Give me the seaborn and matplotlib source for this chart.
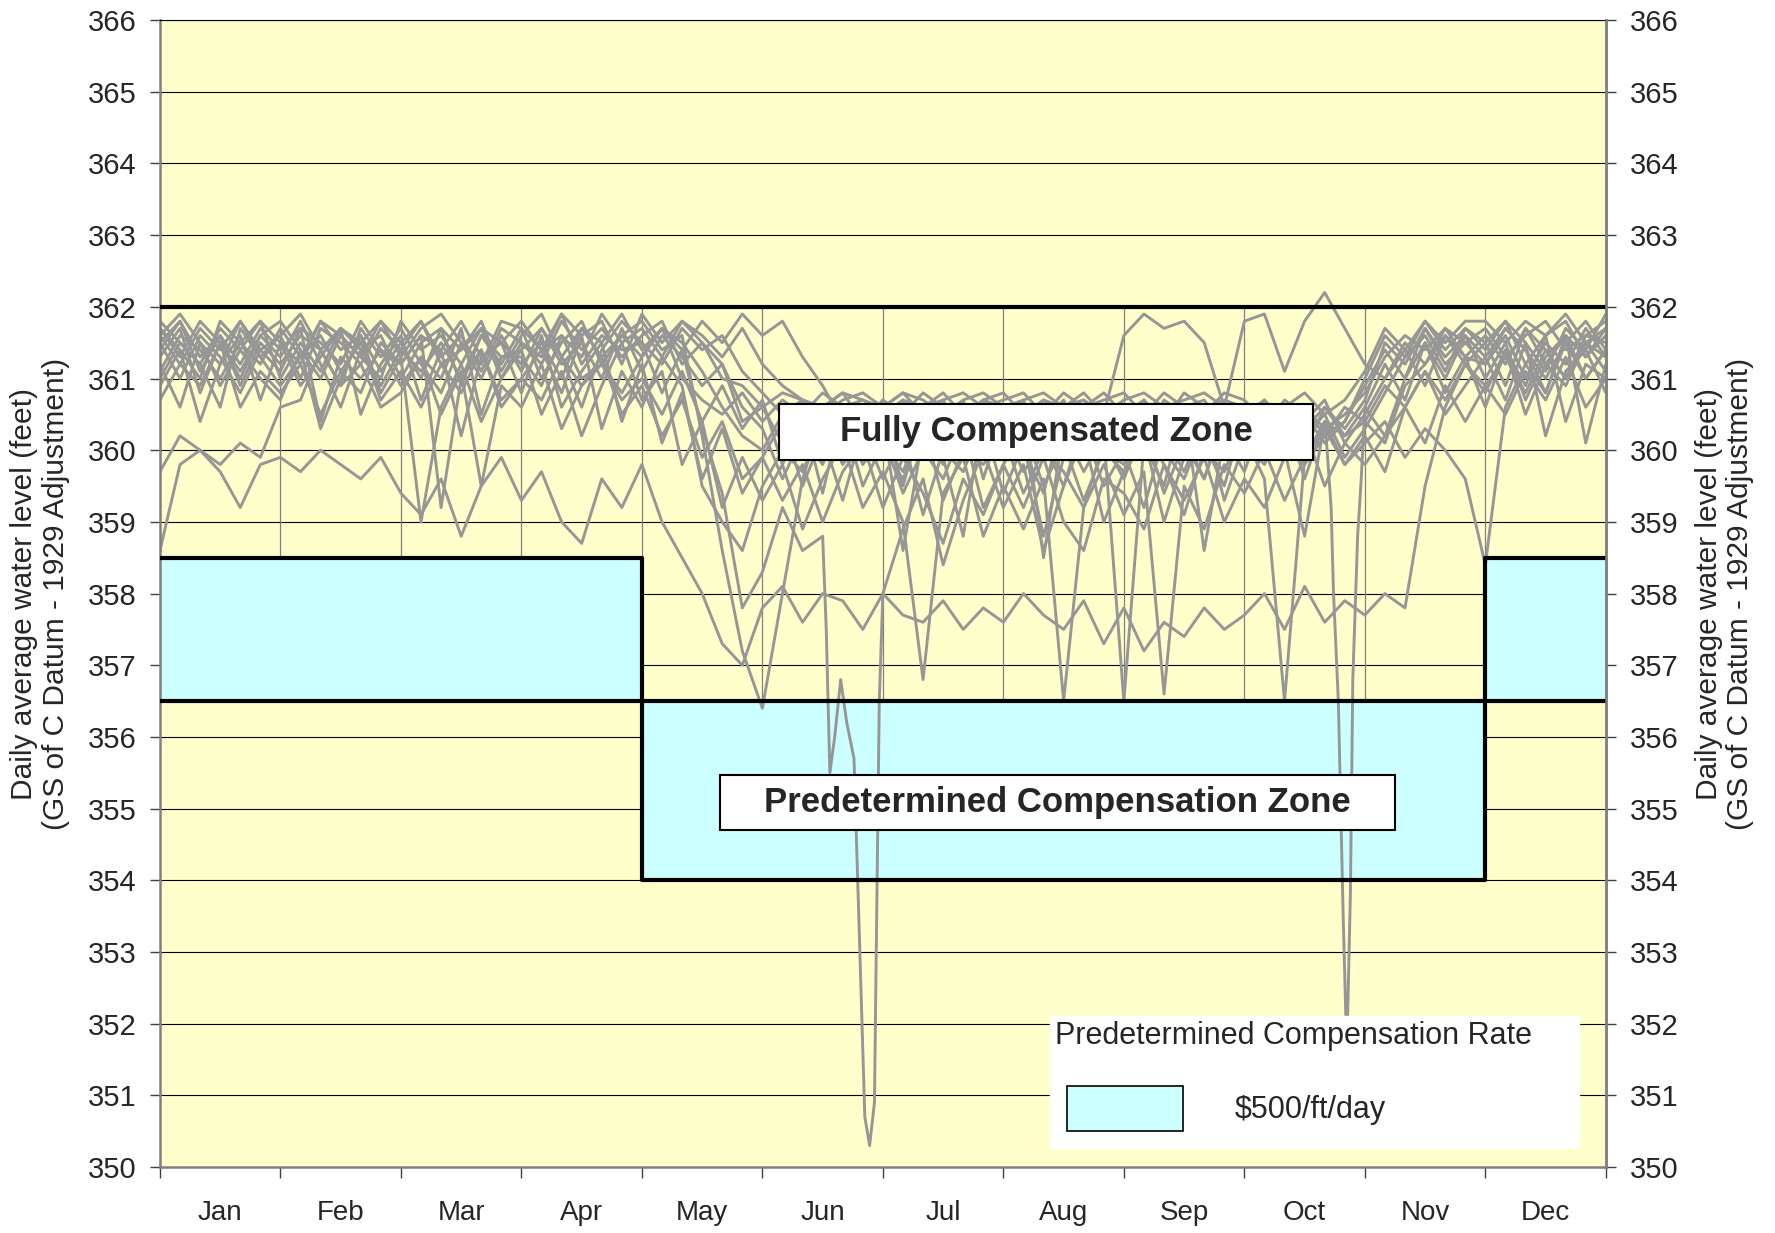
import numpy as np
import pandas as pd
import matplotlib
matplotlib.use("Agg")
import matplotlib.pyplot as plt
import seaborn as sns
from matplotlib.patches import Patch, Rectangle

# ---- data ----
months = ["Jan", "Feb", "Mar", "Apr", "May", "Jun",
          "Jul", "Aug", "Sep", "Oct", "Nov", "Dec"]

# daily water levels, sampled ~every 5 days (6 readings per month), Jan 1 .. Dec 31
samples_per_month = 6

level_a = [361.6, 361.2, 361.7, 361.4, 361.8, 361.3,
           361.6, 361.0, 361.7, 361.5, 361.2, 361.7,
           361.4, 361.8, 361.3, 361.6, 361.1, 361.7,
           361.5, 361.2, 361.8, 361.4, 361.7, 361.3,
           361.6, 361.8, 361.2, 361.5, 361.0, 360.9,
           360.6, 360.8, 360.7, 360.6, 360.8, 360.7,
           360.6, 360.8, 360.7, 360.5, 360.7, 360.8,
           360.6, 360.7, 360.8, 360.6, 360.7, 360.5,
           360.7, 360.8, 360.6, 360.7, 360.8, 360.6,
           360.5, 360.7, 360.4, 360.6, 360.3, 360.5,
           360.8, 361.3, 361.6, 361.4, 361.7, 361.5,
           361.7, 361.3, 361.6, 361.8, 361.4, 361.6, 361.5]

level_b = [361.3, 361.7, 360.8, 361.5, 361.1, 361.6,
           361.3, 361.8, 361.2, 360.6, 361.4, 361.6,
           361.0, 361.5, 361.7, 360.9, 361.6, 361.2,
           361.7, 361.0, 361.5, 361.8, 361.2, 361.6,
           361.3, 361.7, 361.5, 361.1, 360.6, 360.2,
           360.0, 360.5, 360.7, 360.3, 360.6, 360.0,
           360.7, 360.2, 360.6, 360.7, 360.1, 360.6,
           360.4, 360.7, 360.0, 360.6, 360.7, 360.3,
           360.6, 360.2, 360.7, 360.5, 360.0, 360.6,
           360.2, 360.6, 360.0, 360.4, 360.7, 360.1,
           360.5, 361.0, 361.4, 360.9, 361.6, 361.2,
           361.5, 360.9, 361.7, 361.2, 361.6, 361.0, 361.4]

level_c = [360.9, 361.4, 360.4, 361.2, 361.6, 360.7,
           361.5, 360.9, 361.3, 361.7, 360.5, 361.2,
           361.6, 360.7, 361.4, 360.2, 361.3, 361.5,
           360.8, 361.6, 360.6, 361.1, 361.5, 360.4,
           361.2, 360.1, 360.8, 359.6, 360.3, 359.4,
           359.9, 360.4, 359.5, 360.2, 359.3, 360.3,
           359.6, 360.2, 359.1, 360.0, 359.7, 360.4,
           359.4, 360.1, 358.8, 359.9, 360.3, 359.5,
           360.0, 359.2, 360.2, 359.7, 360.4, 359.3,
           360.1, 359.8, 360.5, 359.6, 360.4, None,
           360.6, 360.2, 361.0, 361.5, 360.8, 361.3,
           360.6, 361.4, 360.9, 361.6, 360.4, 361.2, 361.0]

level_d = [361.2, 360.6, 361.5, 360.9, 361.4, 361.0,
           360.7, 361.4, 360.3, 361.0, 361.6, 360.8,
           361.3, 359.0, 360.6, 361.2, 360.4, 361.0,
           361.4, 360.5, 361.1, 360.2, 360.9, 361.5,
           360.7, 361.1, 359.8, 360.4, 359.2, 359.9,
           359.3, 359.8, 358.9, 359.6, 360.1, 359.2,
           359.7, 359.0, 356.8, 359.4, 359.9, 358.8,
           359.5, 358.9, 359.6, 356.5, 359.2, 359.8,
           359.1, 359.7, 356.6, 359.5, 358.9, 359.8,
           359.4, 360.0, 359.3, 359.9, 360.4, 359.8,
           360.2, 359.7, 360.6, 361.1, 360.5, 360.9,
           361.3, 360.7, 361.5, 360.2, 361.1, 361.4, 360.8]

level_e = [358.6, 359.8, 360.0, 359.7, 359.2, 359.8,
           359.9, 359.7, 360.0, 359.8, 359.6, 359.9,
           359.4, 359.1, 359.6, 358.8, 359.5, 359.9,
           359.3, 359.7, 359.0, 358.7, 359.6, 359.2,
           359.8, 359.0, 358.5, 358.0, 357.3, 357.0,
           357.8, 358.1, 357.6, 358.0, 357.9, 357.5,
           358.0, 357.7, 357.6, 357.9, 357.5, 357.8,
           357.6, 358.0, 357.7, 357.5, 357.9, 357.3,
           357.8, 357.2, 357.6, 357.4, 357.8, 357.5,
           357.7, 358.0, 357.5, 358.1, 357.6, 357.9,
           357.7, 358.0, 357.8, 359.5, 360.6, 361.2,
           360.8, 361.4, 360.5, 361.2, 360.9, 361.5, 361.3]

level_f = [361.4, 361.8, 361.1, 361.6, 360.9, 361.5,
           361.2, 361.6, 361.4, 360.9, 361.7, 361.3,
           361.7, 361.2, 360.8, 361.5, 361.0, 361.6,
           361.1, 361.7, 361.3, 360.6, 361.4, 361.8,
           361.5, 360.8, 361.4, 360.3, 359.4, 357.8,
           358.3, 359.2, 358.6, 358.8, None, None,
           358.0, 358.9, 359.6, 358.4, 359.3, 360.0,
           359.2, 359.8, 358.6, 359.5, 360.2, 359.0,
           359.7, 360.3, 359.4, 360.1, 359.6, 360.4,
           359.9, 360.5, 360.1, 360.6, 360.2, 360.4,
           360.9, 361.4, 361.0, 361.7, 361.2, 361.5,
           361.2, 361.7, 361.4, 360.8, 361.6, 361.3, 361.7]

level_g = [361.7, 361.3, 361.8, 361.5, 361.0, 361.6,
           361.8, 361.4, 361.0, 361.6, 361.3, 361.8,
           361.5, 361.0, 361.7, 361.4, 361.8, 361.1,
           361.6, 361.9, 361.3, 361.7, 361.5, 361.9,
           361.4, 361.7, 361.0, 360.7, 360.5, 360.8,
           360.4, 360.7, 360.5, 360.8, 360.6, 360.7,
           360.5, 360.7, 360.6, 360.8, 360.5, 360.7,
           360.6, 360.4, 360.7, 360.6, 360.8, 360.5,
           361.6, 361.9, 361.7, 361.8, 361.5, 360.6,
           361.8, 361.9, 361.1, 361.8, 362.2, 361.7,
           361.2, 361.0, 361.5, 361.2, 361.6, 361.3,
           361.6, 361.2, 361.7, 361.4, 361.0, 361.6, 361.8]

level_h = [361.0, 361.5, 361.2, 360.6, 361.7, 361.3,
           360.9, 361.3, 361.6, 361.1, 360.8, 361.5,
           361.2, 361.6, 359.2, 361.0, 361.4, 360.7,
           361.0, 361.4, 360.8, 361.6, 360.3, 361.1,
           360.6, 361.3, 360.9, 359.5, 359.0, 358.6,
           359.5, 360.0, 359.7, 360.4, 359.8, 360.2,
           360.0, 359.6, 360.3, 359.8, 360.5, 359.9,
           360.3, 359.7, 360.1, 359.5, 360.4, 360.0,
           359.8, 360.4, 360.0, 359.6, 360.3, 359.9,
           360.2, 359.6, 356.5, 359.9, 360.3, 359.8,
           360.1, 360.4, 359.9, 360.3, 360.0, 359.6,
           358.4, 360.6, 361.2, 360.8, 361.5, 361.0, 361.4]

level_i = [361.5, 361.0, 361.6, 361.3, 360.8, 361.4,
           361.1, 361.7, 360.4, 361.3, 361.0, 361.4,
           360.9, 361.3, 361.0, 361.7, 360.5, 361.3,
           361.3, 360.9, 361.6, 361.0, 361.2, 360.7,
           361.0, 360.5, 361.1, 360.4, 360.9, 360.3,
           360.7, 359.8, 360.5, 359.4, 360.6, 359.9,
           360.4, 358.6, 360.2, 359.9, 358.8, 360.5,
           359.9, 360.6, 358.5, 360.3, 359.7, 360.2,
           356.5, 360.1, 359.5, 360.6, 358.6, 360.2,
           359.7, 360.5, 360.0, 358.8, 360.4, 360.2,
           360.6, 361.2, 360.7, 361.5, 361.0, 361.6,
           361.0, 361.5, 360.7, 361.3, 361.6, 360.1, 361.2]

level_j = [361.8, 361.5, 361.2, 361.7, 361.4, 361.8,
           361.5, 361.2, 361.8, 361.6, 361.3, 361.0,
           361.8, 361.4, 361.6, 361.2, 361.7, 361.5,
           361.2, 361.5, 361.0, 361.7, 361.3, 361.6,
           361.8, 361.4, 361.6, 360.2, 358.6, 357.2,
           356.4, 358.0, 359.6, 360.5, 360.0, 360.6,
           360.3, 360.7, 360.2, 360.6, 360.4, 360.7,
           360.2, 360.6, 360.4, 360.7, 360.1, 360.6,
           360.4, 360.7, 360.3, 360.6, 360.7, 360.3,
           360.6, 360.3, 360.7, 360.5, 360.1, 360.4,
           361.0, 361.6, 361.3, 361.8, 361.4, 361.7,
           361.4, 361.8, 361.5, 361.1, 361.7, 361.4, 361.9]

level_k = [361.5, 361.8, 361.3, 361.6, 361.2, 361.7,
           361.4, 361.7, 361.5, 361.2, 361.8, 361.4,
           361.2, 361.6, 361.4, 361.8, 361.3, 361.5,
           361.8, 361.4, 361.6, 361.3, 361.9, 361.5,
           361.7, 361.3, 361.8, 361.5, 361.2, 360.6,
           360.3, 359.6, 360.2, 359.8, 360.5, 359.5,
           360.1, 359.7, 360.4, 359.3, 360.0, 359.8,
           360.2, 359.4, 360.0, 359.7, 359.2, 360.1,
           359.6, 360.3, 359.8, 359.1, 360.0, 359.7,
           360.4, 360.1, 360.6, 360.2, 360.5, 359.9,
           360.3, 360.8, 361.3, 361.6, 361.1, 361.7,
           361.5, 361.8, 361.2, 361.6, 361.8, 361.3, 361.6]

level_l = [361.1, 361.6, 361.4, 361.0, 361.5, 361.8,
           361.0, 361.5, 361.1, 361.7, 361.4, 360.9,
           361.4, 361.1, 361.5, 361.0, 361.6, 361.3,
           361.4, 361.7, 361.2, 361.5, 361.0, 361.7,
           361.1, 361.6, 361.3, 360.9, 361.2, 360.4,
           360.6, 360.1, 360.7, 360.4, 359.9, 360.6,
           360.4, 359.5, 360.5, 360.1, 360.7, 359.6,
           360.5, 360.0, 359.4, 360.5, 360.2, 359.9,
           360.5, 360.0, 360.6, 360.2, 359.6, 360.5,
           360.3, 360.7, 359.9, 360.3, 360.6, 360.2,
           360.4, 360.1, 360.9, 361.2, 361.7, 361.3,
           361.2, 361.6, 361.0, 361.5, 361.2, 361.7, 361.3]

level_m = [361.7, 361.4, 361.0, 361.8, 361.5, 361.2,
           361.7, 361.3, 361.8, 361.4, 361.6, 361.1,
           361.5, 361.8, 361.2, 361.4, 361.7, 361.0,
           361.5, 361.3, 361.9, 361.2, 361.6, 361.4,
           361.5, 361.2, 361.7, 361.4, 361.6, 361.1,
           360.8, 360.5, 360.7, 360.6, 360.8, 360.4,
           360.7, 360.5, 360.8, 360.6, 360.4, 360.7,
           360.8, 360.5, 360.7, 360.4, 360.6, 360.8,
           360.5, 360.7, 360.4, 360.8, 360.6, 360.7,
           360.6, 360.2, 360.5, 360.0, 360.6, 360.3,
           360.7, 361.5, 361.2, 361.7, 361.3, 361.6,
           361.3, 361.7, 361.4, 361.0, 361.5, 361.8, 361.4]

level_n = [359.7, 360.2, 360.0, 359.8, 360.1, 359.9,
           360.6, 360.7, 361.4, 360.9, 361.2, 360.6,
           360.8, 361.3, 360.5, 361.1, 359.5, 360.9,
           360.6, 361.2, 360.3, 360.9, 361.3, 360.5,
           360.9, 360.2, 360.7, 359.9, 360.4, 359.6,
           359.9, 359.3, 359.8, 359.0, 359.7, 360.1,
           359.2, 359.9, 359.4, 358.7, 359.6, 359.1,
           359.8, 359.2, 359.9, 359.0, 358.6, 359.6,
           359.4, 358.9, 359.8, 359.3, 359.9, 359.0,
           359.6, 359.2, 359.9, 360.3, 359.5, 360.1,
           359.8, 360.2, 360.6, 360.1, 360.9, 360.4,
           360.9, 360.5, 361.1, 360.7, 361.3, 360.6, 361.0]

level_o = [361.6, 361.9, 361.5, 361.2, 361.8, 361.4,
           361.6, 361.9, 361.4, 361.7, 361.5, 361.8,
           361.3, 361.7, 361.9, 361.5, 361.2, 361.8,
           361.7, 361.4, 361.9, 361.6, 361.8, 361.2,
           361.9, 361.5, 361.8, 361.6, 361.3, 361.7,
           361.2, 360.9, 360.7, 360.5, 360.7, 360.8,
           360.6, 360.8, 360.5, 360.7, 360.8, 360.6,
           360.7, 360.8, 360.5, 360.8, 360.6, 360.7,
           360.8, 360.5, 360.8, 360.6, 360.5, 360.8,
           360.7, 360.4, 360.6, 360.8, 360.5, 360.7,
           361.1, 361.7, 361.4, 361.8, 361.5, 361.8,
           361.8, 361.5, 361.8, 361.6, 361.9, 361.5, 361.7]

level_p = [360.7, 361.2, 360.9, 361.5, 360.6, 361.1,
           360.8, 361.2, 360.5, 361.1, 361.5, 360.7,
           361.1, 360.6, 361.2, 360.8, 361.4, 360.6,
           361.0, 360.7, 361.3, 360.9, 361.2, 360.8,
           361.3, 361.7, 361.4, 361.8, 361.5, 361.9,
           361.6, 361.8, 361.3, 360.9, 360.4, 359.8,
           360.2, 359.4, 360.0, 359.6, 360.3, 359.2,
           359.8, 360.3, 359.5, 360.1, 359.3, 360.0,
           359.7, 360.2, 359.0, 359.9, 360.1, 359.5,
           360.5, 360.1, 360.3, 359.8, 360.2, 360.6,
           360.4, 360.9, 360.6, 361.1, 360.7, 361.2,
           360.9, 361.3, 360.8, 361.4, 361.0, 361.5, 361.1]

# finer readings around the two big drawdowns (late June, late October)
june_drop_month = [5.50, 5.53, 5.56, 5.60, 5.65, 5.70, 5.76, 5.80, 5.85, 5.89, 5.93, 5.97, 6.00]
june_drop_level = [358.8, 357.5, 355.5, 356.0, 356.8, 356.2, 355.7, 353.5, 350.7, 350.3, 350.9, 356.5, 358.0]
oct_drop_month = [9.67, 9.72, 9.74, 9.78, 9.82, 9.85, 9.88, 9.90, 9.94, 9.97]
oct_drop_level = [360.4, 359.2, 358.0, 356.5, 353.5, 351.6, 353.8, 356.8, 358.8, 359.6]

# compensation zones
full_comp_top = 362.0
zone_top = [358.5, 358.5, 358.5, 358.5, 356.5, 356.5, 356.5, 356.5, 356.5, 356.5, 356.5, 358.5]
zone_bottom = [356.5, 356.5, 356.5, 356.5, 354.0, 354.0, 354.0, 354.0, 354.0, 354.0, 354.0, 356.5]
rate_label = "$500/ft/day"

# ---- build long table ----
traces = {"a": level_a, "b": level_b, "c": level_c, "d": level_d, "e": level_e,
          "f": level_f, "g": level_g, "h": level_h, "i": level_i, "j": level_j,
          "k": level_k, "l": level_l, "m": level_m, "n": level_n, "o": level_o,
          "p": level_p}
grid = np.arange(len(level_a)) / samples_per_month
frames = [pd.DataFrame({"month": grid, "level": vals, "year": key}) for key, vals in traces.items()]
frames.append(pd.DataFrame({"month": june_drop_month, "level": june_drop_level, "year": "f"}))
frames.append(pd.DataFrame({"month": oct_drop_month, "level": oct_drop_level, "year": "c"}))
df = pd.concat(frames, ignore_index=True).dropna()
df["level"] = df["level"].astype(float)

# ---- style ----
sns.set_theme(style="ticks")
plt.rcParams["font.family"] = ["Liberation Sans", "DejaVu Sans"]

yellow = "#FFFFCC"
cyan = "#CCFFFF"
gray = "#969696"

fig = plt.figure(figsize=(17.75, 12.33), dpi=100)
ax = fig.add_axes([0.0901, 0.0535, 0.8146, 0.9302])
ax.set_facecolor(yellow)
ax.set_axisbelow(True)

# zones
edges = np.arange(len(months) + 1)
ax.fill_between(edges, zone_bottom + zone_bottom[-1:], zone_top + zone_top[-1:],
                step="post", color=cyan, lw=0, zorder=1)

# month dividers only run through the band between the zones and the 362 line
div_low = [min(zone_top[m - 1], zone_top[m]) for m in range(1, len(months))]
ax.vlines(edges[1:-1], div_low, full_comp_top, color="#808080", lw=0.9, zorder=0.8)

sns.lineplot(data=df, x="month", y="level", units="year", estimator=None,
             color=gray, linewidth=2.0, legend=False, ax=ax, zorder=2)
# make sure the daily traces keep the heavier stroke
for ln in ax.get_lines():
    ln.set_linewidth(2.1)
    ln.set_solid_joinstyle("round")

ax.step(edges, zone_top + zone_top[-1:], where="post", color="black", lw=3, zorder=3)
ax.step(edges, zone_bottom + zone_bottom[-1:], where="post", color="black", lw=3, zorder=3)
ax.axhline(full_comp_top, color="black", lw=3, zorder=3)

# zone labels
ax.add_patch(Rectangle((5.14, 359.87), 4.43, 0.775, fc="white", ec="black", lw=1.5, zorder=4))
ax.text(7.355, 360.26, "Fully Compensated Zone", ha="center", va="center",
        fontsize=25, fontweight="bold", zorder=5)
ax.add_patch(Rectangle((4.648, 354.706), 5.606, 0.759, fc="white", ec="black", lw=1.5, zorder=4))
ax.text(7.45, 355.085, "Predetermined Compensation Zone", ha="center", va="center",
        fontsize=25, fontweight="bold", zorder=5)

# axes
ax.set_xlim(0, 12)
ax.set_ylim(350, 366)
ax.set_xticks(edges)
ax.set_xticklabels([])
ax.set_xticks(edges[:-1] + 0.5, minor=True)
ax.set_xticklabels(months, minor=True, fontsize=20)
ax.tick_params(axis="x", which="major", length=8, width=1, color="#404040", direction="out")
ax.tick_params(axis="x", which="minor", length=0, pad=24)
ax.set_yticks(np.arange(350, 367))
ax.tick_params(axis="y", labelsize=21, length=7, width=1, color="#404040", pad=10, direction="out")
ax.grid(axis="y", color="black", lw=0.8)
ax.grid(axis="x", visible=False)
ax.set_xlabel("")
ylab = "Daily average water level (feet)\n(GS of C Datum - 1929 Adjustment)"
ax.set_ylabel(ylab, fontsize=21.5, ha="center", va="center", linespacing=1.15)
ax.yaxis.set_label_coords(-0.083, 0.5)

for side in ["left", "right", "bottom"]:
    ax.spines[side].set_color("#808080")
    ax.spines[side].set_linewidth(1.8)
ax.spines["top"].set_color("black")
ax.spines["top"].set_linewidth(0.8)

ax2 = ax.twinx()
ax2.set_ylim(350, 366)
ax2.set_yticks(np.arange(350, 367))
ax2.tick_params(axis="y", labelsize=21, length=7, width=1, color="#404040", pad=10, direction="out")
ax2.set_ylabel(ylab, fontsize=21.5, ha="center", va="center", linespacing=1.15)
ax2.yaxis.set_label_coords(1.0823, 0.5)
for side in ["left", "top", "bottom"]:
    ax2.spines[side].set_visible(False)
ax2.spines["right"].set_color("#808080")
ax2.spines["right"].set_linewidth(1.8)

# legend
leg = ax2.legend(handles=[Patch(fc=cyan, ec="black", lw=1.2, label=rate_label)],
                 title="Predetermined Compensation Rate", loc="lower left",
                 bbox_to_anchor=(0.6155, 0.0166, 0.3658, 0.12), mode="expand",
                 fontsize=22, title_fontsize=22, frameon=True, fancybox=False,
                 framealpha=1, facecolor="white", edgecolor="white",
                 handlelength=3.8, handleheight=1.886, handletextpad=1.7,
                 borderpad=0.16, labelspacing=0.75, borderaxespad=0, alignment="left")
# indent the swatch row a little, like the original key
leg._legend_handle_box.get_children()[0].get_children()[0].pad = 8.6
leg.set_zorder(6)

fig.savefig("out.png", dpi=100, facecolor="white")
